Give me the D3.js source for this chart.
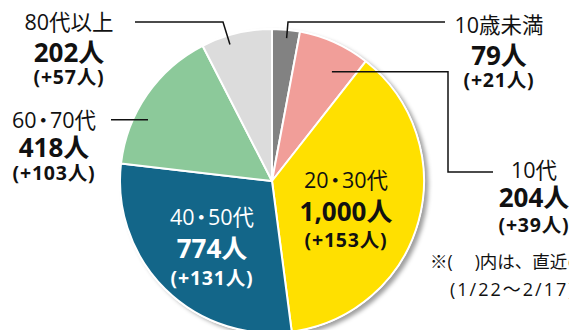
<!DOCTYPE html>
<html>
<head>
<meta charset="utf-8">
<script src="https://cdn.jsdelivr.net/npm/d3@7"></script>
<style>
  html, body { margin: 0; padding: 0; background: #fff; }
  svg { display: block; font-family: "Open Sans", "Noto Sans CJK JP", sans-serif; }
</style>
</head>
<body>
<svg id="chart" width="569" height="330"></svg>
<script>
// Age groups, clockwise from 12 o'clock
const categories = ["10歳未満", "10代", "20・30代", "40・50代", "60・70代", "80代以上"];
const counts     = [79, 204, 1000, 774, 418, 202];
const increases  = [21, 39, 153, 131, 103, 57];
const colors     = ["#828282", "#f19e99", "#ffe000", "#136689", "#8cc99a", "#dcdcdc"];

const noteLines = ["※(　 )内は、直近の増加数", "(1/22～2/17)"];

const W = 569, H = 330;
const cx = 272, cy = 181, R = 152;

const svg = d3.select("#chart");

// soft shadow cast to the lower right of the disc
const defs = svg.append("defs");
const f = defs.append("filter").attr("id", "shadow")
  .attr("x", "-10%").attr("y", "-10%").attr("width", "125%").attr("height", "125%");
f.append("feDropShadow").attr("dx", 4).attr("dy", 3).attr("stdDeviation", 2.2)
  .attr("flood-color", "#000").attr("flood-opacity", 0.38);

const pie = d3.pie().sort(null).value(d => d)(counts);
const arc = d3.arc().innerRadius(0).outerRadius(R);

const g = svg.append("g").attr("transform", `translate(${cx},${cy})`);

g.append("circle").attr("r", R + 0.5).attr("fill", "#fff").attr("filter", "url(#shadow)");

g.selectAll("path.slice").data(pie).join("path")
  .attr("class", "slice")
  .attr("d", arc)
  .attr("fill", (d, i) => colors[i])
  .attr("stroke", "#fff")
  .attr("stroke-width", 2)
  .attr("stroke-linejoin", "round");

// point inside a slice: t = fraction across the slice's angle, k = fraction of radius
function slicePoint(i, t, k) {
  const a = pie[i].startAngle + (pie[i].endAngle - pie[i].startAngle) * t;
  return [cx + R * k * Math.sin(a), cy - R * k * Math.cos(a)];
}

// label placement: text centre x, y of the three lines, text colour, leader
const labelLayout = [
  { x: 499, ys: [25, 56, 80], fill: "#111", leader: { t: 0.55, k: 0.945, bends: [[288, 22], [445, 22]] } },
  { x: 534, ys: [170, 198, 225], fill: "#111", leader: { t: 0.66, k: 0.82, bends: [[448, null], [448, 172], [493, 172]] } },
  { x: 346, ys: [180, 212, 240], fill: "#111" },
  { x: 212, ys: [217, 249, 278], fill: "#fff" },
  { x: 54,  ys: [120, 148, 173], fill: "#111", leader: { t: 0.35, k: 0.91, bends: [[111, null]] } },
  { x: 69,  ys: [22, 53, 77], fill: "#111", leader: { t: 0.37, k: 0.94, bends: [[223, 22], [135, 22]] } }
];

const fmt = d3.format(",");

// category name; the middle dot is drawn narrow, as a half-width separator
function writeCategory(sel, name) {
  const parts = name.split("・");
  parts.forEach((p, j) => {
    if (j > 0) {
      sel.append("tspan").attr("dx", -4).text("・");
      sel.append("tspan").attr("dx", -4).text(p);
    } else {
      sel.append("tspan").text(p);
    }
  });
}

labelLayout.forEach((L, i) => {
  if (L.leader) {
    const p0 = slicePoint(i, L.leader.t, L.leader.k);
    const pts = [p0];
    L.leader.bends.forEach(b => pts.push([b[0], b[1] == null ? pts[pts.length - 1][1] : b[1]]));
    svg.append("path")
      .attr("d", d3.line()(pts))
      .attr("fill", "none")
      .attr("stroke", "#111")
      .attr("stroke-width", 1.5);
  }
  const t = svg.append("g").attr("fill", L.fill).attr("text-anchor", "middle");
  const c = t.append("text").attr("x", L.x).attr("y", L.ys[0]).attr("dy", "0.35em")
    .attr("font-size", 21.5).attr("font-weight", 400);
  writeCategory(c, categories[i]);
  t.append("text").attr("x", L.x).attr("y", L.ys[1]).attr("dy", "0.36em")
    .attr("font-size", 26).attr("font-weight", 700).text(fmt(counts[i]) + "人");
  t.append("text").attr("x", L.x).attr("y", L.ys[2]).attr("dy", "0.35em")
    .attr("font-size", 19.5).attr("font-weight", 700).attr("letter-spacing", 0.8)
    .text("(+" + fmt(increases[i]) + "人)");
});

svg.append("text").attr("x", 430).attr("y", 262).attr("dy", "0.35em")
  .attr("font-size", 17.5).attr("fill", "#111").text(noteLines[0]);
svg.append("text").attr("x", 450).attr("y", 290).attr("dy", "0.35em")
  .attr("font-size", 18).attr("letter-spacing", 2).attr("fill", "#111").text(noteLines[1]);
</script>
</body>
</html>
